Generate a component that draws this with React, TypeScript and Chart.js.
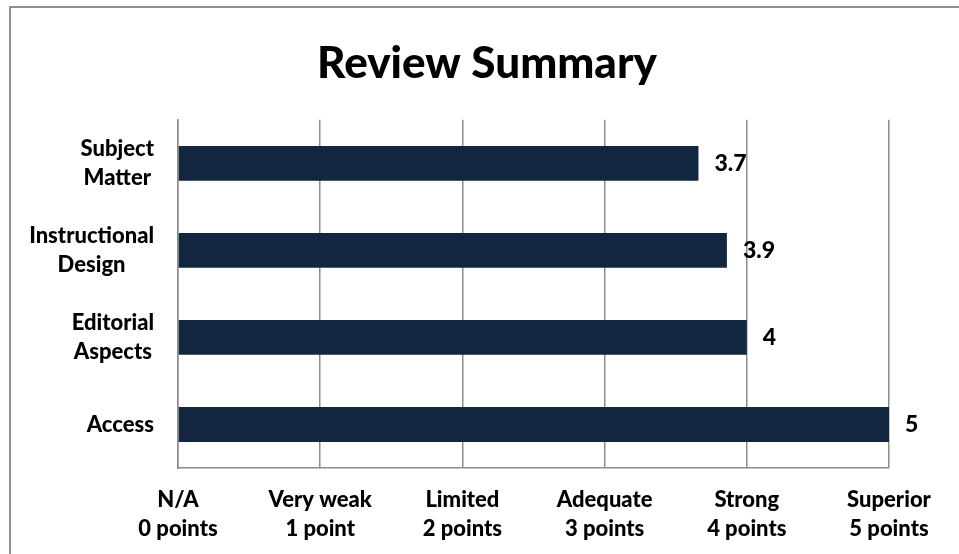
import React, { useEffect, useRef } from "react";
import { Chart, registerables } from "chart.js";

Chart.register(...registerables);

const TITLE = "Review Summary";
const categories: string[][] = [
  ["Subject", "Matter"],
  ["Instructional", "Design"],
  ["Editorial", "Aspects"],
  ["Access"],
];
const scores: number[] = [3.66, 3.86, 4, 5];
const tickNames: string[] = ["N/A", "Very weak", "Limited", "Adequate", "Strong", "Superior"];
const tickPoints: string[] = ["0 points", "1 point", "2 points", "3 points", "4 points", "5 points"];

const FONT = "Lato, 'Open Sans', sans-serif";
const WEIGHT = "900";
const BAR_COLOR = "#132640";
const GRID_COLOR = "#8c8c8c";

const yLabelPlugin = {
  id: "yLabelBlocks",
  afterDraw(chart: any) {
    const scale = chart.scales.y;
    const ctx = chart.ctx as CanvasRenderingContext2D;
    ctx.save();
    ctx.font = `${WEIGHT} 22px ${FONT}`;
    ctx.fillStyle = "#000";
    ctx.textBaseline = "middle";
    ctx.textAlign = "center";
    const lineH = 29;
    const right = scale.right - 24;
    categories.forEach((lines, i) => {
      const y = scale.getPixelForTick(i);
      const w = Math.max(...lines.map((l) => ctx.measureText(l).width));
      const cx = right - w / 2;
      lines.forEach((l, j) => {
        ctx.fillText(l, cx, y + (j - (lines.length - 1) / 2) * lineH);
      });
    });
    ctx.restore();
  },
};

const valueLabelPlugin = {
  id: "valueLabels",
  afterDatasetsDraw(chart: any) {
    const ctx = chart.ctx as CanvasRenderingContext2D;
    const meta = chart.getDatasetMeta(0);
    ctx.save();
    ctx.font = `${WEIGHT} 23px ${FONT}`;
    ctx.fillStyle = "#000";
    ctx.textBaseline = "middle";
    ctx.textAlign = "left";
    meta.data.forEach((bar: any, i: number) => {
      const v = scores[i];
      const txt = String(Number(v.toFixed(1)));
      ctx.fillText(txt, bar.x + 16, bar.y);
    });
    ctx.restore();
  },
};

export default function App() {
  const ref = useRef<HTMLCanvasElement | null>(null);

  useEffect(() => {
    if (!ref.current) return;
    const chart = new Chart(ref.current, {
      type: "bar",
      data: {
        labels: categories.map((c) => c.join(" ")),
        datasets: [
          {
            data: scores,
            backgroundColor: BAR_COLOR,
            borderWidth: 0,
            barPercentage: 0.4,
            categoryPercentage: 1,
          },
        ],
      },
      options: {
        indexAxis: "y",
        responsive: false,
        animation: false,
        layout: { padding: { left: 85, right: 70, top: 0, bottom: 0 } },
        plugins: {
          legend: { display: false },
          tooltip: { enabled: false },
          title: {
            display: true,
            text: TITLE,
            color: "#000",
            font: { family: FONT, size: 44, weight: WEIGHT, lineHeight: 1.2 },
            padding: { top: 37, bottom: 30 },
          },
        },
        scales: {
          x: {
            type: "linear",
            min: 0,
            max: 5,
            afterFit(scale: any) {
              scale.height = 86;
            },
            grid: {
              color: GRID_COLOR,
              lineWidth: 1.5,
              drawTicks: false,
            },
            border: { display: true, color: GRID_COLOR, width: 1.5 },
            ticks: {
              stepSize: 1,
              padding: 17,
              color: "#000",
              font: { family: FONT, size: 22, weight: WEIGHT, lineHeight: 1.32 },
              maxRotation: 0,
              callback: (value: any) => {
                const i = Number(value);
                return [tickNames[i], tickPoints[i]];
              },
            },
          },
          y: {
            afterFit(scale: any) {
              scale.width = 93;
            },
            grid: { display: false, drawTicks: false },
            border: { display: true, color: GRID_COLOR, width: 1.5 },
            ticks: { display: false },
          },
        },
      },
      plugins: [yLabelPlugin, valueLabelPlugin],
    } as any);
    return () => chart.destroy();
  }, []);

  return (
    <div
      style={{
        position: "absolute",
        left: 0,
        top: 0,
        width: 959,
        height: 554,
        overflow: "hidden",
        background: "#fff",
      }}
    >
      <div
        style={{
          position: "absolute",
          left: 9,
          top: 6,
          width: 2000,
          height: 2000,
          borderLeft: "2px solid #8f8f8f",
          borderTop: "2px solid #8f8f8f",
        }}
      />
      <canvas
        ref={ref}
        width={959}
        height={554}
        style={{ position: "absolute", left: 0, top: 0, display: "block" }}
      />
    </div>
  );
}
